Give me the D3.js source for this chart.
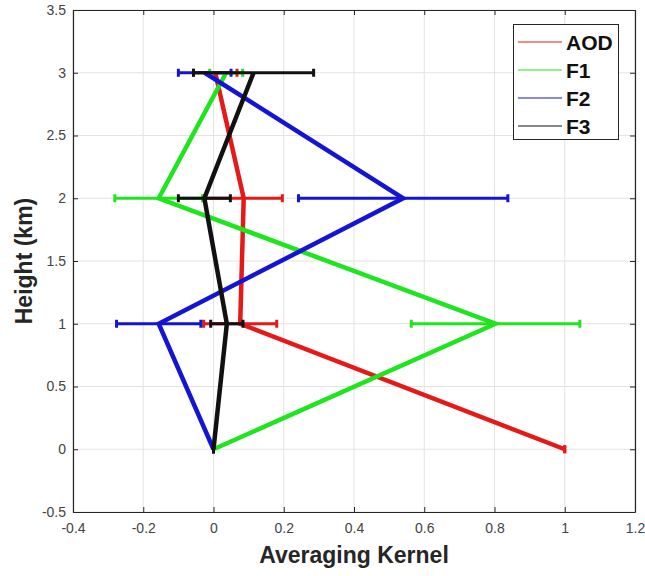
<!DOCTYPE html>
<html>
<head>
<meta charset="utf-8">
<script src="https://cdn.jsdelivr.net/npm/d3@7"></script>
<style>
  html, body { margin: 0; padding: 0; background: #fff; }
  svg { display: block; font-family: "Liberation Sans", Arial, sans-serif; }
</style>
</head>
<body>
<svg id="chart" width="645" height="576"></svg>
<script>
// Retrieval heights (km)
const heights = [0, 1, 2, 3];

// Averaging kernel values per parameter, one entry per height
const seriesNames = ["AOD", "F1", "F2", "F3"];
const aodValues = [1.0, 0.076, 0.086, 0.005];
const f1Values  = [0.0, 0.803, -0.156, 0.036];
const f2Values  = [0.0, -0.156, 0.540, -0.025];
const f3Values  = [0.0, 0.038, -0.026, 0.114];

// Half-width of the horizontal error bars
const aodErrors = [0.0, 0.104, 0.110, 0.062];
const f1Errors  = [0.0, 0.240, 0.125, 0.047];
const f2Errors  = [0.0, 0.120, 0.298, 0.075];
const f3Errors  = [0.0, 0.046, 0.074, 0.171];

const seriesColors = ["#e61919", "#1fe51f", "#1414d4", "#111111"];

// Axis ticks
const xTicks = [-0.4, -0.2, 0, 0.2, 0.4, 0.6, 0.8, 1, 1.2];
const yTicks = [-0.5, 0, 0.5, 1, 1.5, 2, 2.5, 3, 3.5];

const series = seriesNames.map((name, i) => ({
  name,
  color: seriesColors[i],
  values: [aodValues, f1Values, f2Values, f3Values][i],
  errors: [aodErrors, f1Errors, f2Errors, f3Errors][i]
}));

const svg = d3.select("#chart");
const margin = { left: 73, right: 10, top: 10, bottom: 64 };
const W = 645, H = 576;
const x = d3.scaleLinear().domain([-0.4, 1.2]).range([margin.left, W - margin.right]);
const y = d3.scaleLinear().domain([-0.5, 3.5]).range([H - margin.bottom, margin.top]);

const fmt = d => String(d);

// Grid
const grid = svg.append("g");
grid.selectAll("line.gx").data(xTicks).join("line")
  .attr("x1", d => x(d)).attr("x2", d => x(d))
  .attr("y1", y.range()[1]).attr("y2", y.range()[0])
  .attr("stroke", "#e3e3e3").attr("stroke-width", 1);
grid.selectAll("line.gy").data(yTicks).join("line")
  .attr("y1", d => y(d)).attr("y2", d => y(d))
  .attr("x1", x.range()[0]).attr("x2", x.range()[1])
  .attr("stroke", "#e3e3e3").attr("stroke-width", 1);

// Axes (ticks point inward, box framed on all sides)
const axisColor = "#262626";
const axBottom = svg.append("g").attr("transform", `translate(0,${y(-0.5)})`)
  .call(d3.axisBottom(x).tickValues(xTicks).tickFormat(fmt).tickSizeInner(-5).tickSizeOuter(0).tickPadding(11));
const axLeft = svg.append("g").attr("transform", `translate(${x(-0.4)},0)`)
  .call(d3.axisLeft(y).tickValues(yTicks).tickFormat(fmt).tickSizeInner(-5).tickSizeOuter(0).tickPadding(7));
const axTop = svg.append("g").attr("transform", `translate(0,${y(3.5)})`)
  .call(d3.axisTop(x).tickValues(xTicks).tickFormat("").tickSizeInner(-5).tickSizeOuter(0));
const axRight = svg.append("g").attr("transform", `translate(${x(1.2)},0)`)
  .call(d3.axisRight(y).tickValues(yTicks).tickFormat("").tickSizeInner(-5).tickSizeOuter(0));
[axBottom, axLeft, axTop, axRight].forEach(g => {
  g.selectAll("path.domain").attr("stroke", axisColor).attr("stroke-width", 1.2);
  g.selectAll(".tick line").attr("stroke", axisColor);
  g.selectAll(".tick text").attr("fill", "#444").style("font-size", "14px")
    .style("font-family", "'Liberation Sans', Arial, sans-serif");
});

// Axis titles
svg.append("text")
  .attr("x", (x.range()[0] + x.range()[1]) / 2).attr("y", 563)
  .attr("text-anchor", "middle").attr("fill", "#262626")
  .style("font-size", "23px").style("font-weight", "bold")
  .text("Averaging Kernel");
svg.append("text")
  .attr("transform", `translate(32,${(y.range()[0] + y.range()[1]) / 2}) rotate(-90)`)
  .attr("text-anchor", "middle").attr("fill", "#262626")
  .style("font-size", "23px").style("font-weight", "bold")
  .text("Height (km)");

// Kernel profiles with horizontal error bars
const line = d3.line().x(d => x(d.v)).y(d => y(d.h));
const capH = 4;
series.forEach(s => {
  const pts = heights.map((h, i) => ({ h, v: s.values[i], e: s.errors[i] }));
  const g = svg.append("g");
  g.selectAll("line.err").data(pts).join("line")
    .attr("x1", d => x(d.v - d.e)).attr("x2", d => x(d.v + d.e))
    .attr("y1", d => y(d.h)).attr("y2", d => y(d.h))
    .attr("stroke", s.color).attr("stroke-width", 3);
  pts.forEach(d => {
    [d.v - d.e, d.v + d.e].forEach(v => {
      g.append("line")
        .attr("x1", x(v)).attr("x2", x(v))
        .attr("y1", y(d.h) - capH).attr("y2", y(d.h) + capH)
        .attr("stroke", s.color).attr("stroke-width", 3);
    });
  });
  g.append("path").datum(pts)
    .attr("d", line).attr("fill", "none")
    .attr("stroke", s.color).attr("stroke-width", 4.5)
    .attr("stroke-linejoin", "miter");
});

// Legend
const lg = svg.append("g");
lg.append("rect").attr("x", 513.5).attr("y", 24.5).attr("width", 105).attr("height", 115)
  .attr("fill", "#fff").attr("stroke", "#262626").attr("stroke-width", 1);
series.forEach((s, i) => {
  const ly = 42 + i * 28;
  lg.append("line").attr("x1", 518).attr("x2", 562).attr("y1", ly).attr("y2", ly)
    .attr("stroke", s.color).attr("stroke-width", 1.2);
  lg.append("text").attr("x", 566).attr("y", ly + 7.5)
    .attr("fill", "#111").style("font-size", "21px").style("font-weight", "bold")
    .text(s.name);
});
</script>
</body>
</html>
